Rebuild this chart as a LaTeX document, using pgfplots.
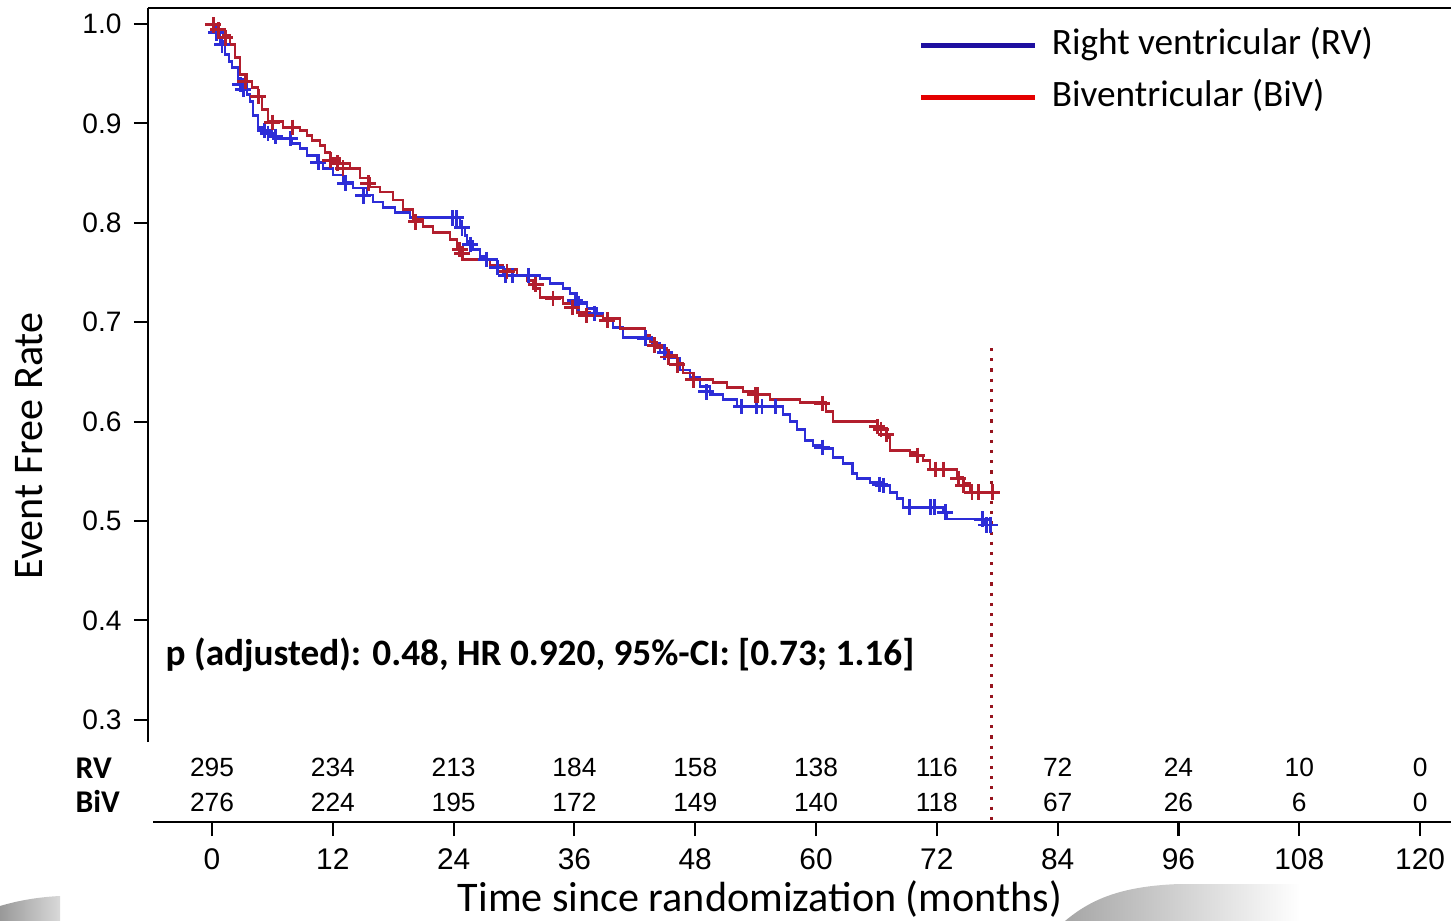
\documentclass[border=0pt]{standalone}
\usepackage{fontspec}
\setmainfont{Carlito}
\newfontfamily\arial{Liberation Sans}
\usepackage{pgfplots}
\usepackage{pgfplotstable}
\pgfplotsset{compat=1.18}

\definecolor{kmblue}{RGB}{45,45,215}
\definecolor{kmred}{RGB}{178,30,45}
\definecolor{legblue}{RGB}{30,15,160}
\definecolor{legred}{RGB}{228,0,0}
\definecolor{cutred}{RGB}{150,20,30}

% Kaplan-Meier steps: month, event free rate
\pgfplotstableread{
t s
0 1.000
0.30 0.994
0.79 0.982
1.29 0.969
1.69 0.962
1.99 0.956
2.58 0.944
3.08 0.936
3.48 0.929
3.77 0.922
4.07 0.908
4.57 0.896
5.07 0.890
6.06 0.885
7.95 0.880
8.74 0.875
9.44 0.868
10.43 0.861
11.03 0.855
12.02 0.848
13.01 0.841
14.01 0.835
15.40 0.828
15.99 0.821
16.99 0.815
18.18 0.810
19.67 0.805
24.64 0.795
25.13 0.787
25.33 0.781
25.93 0.773
26.62 0.766
27.32 0.763
28.31 0.755
28.91 0.747
32.58 0.744
33.57 0.739
34.87 0.734
35.56 0.729
36.26 0.720
37.25 0.714
38.24 0.709
38.84 0.702
39.83 0.695
40.83 0.685
43.71 0.679
44.50 0.670
45.50 0.664
46.49 0.652
47.48 0.644
48.48 0.635
49.47 0.627
50.76 0.622
52.15 0.615
56.72 0.607
57.42 0.600
58.11 0.592
58.91 0.581
59.70 0.576
60.69 0.573
61.69 0.564
62.68 0.558
63.58 0.548
64.07 0.543
65.36 0.539
66.65 0.536
67.35 0.529
68.04 0.523
68.64 0.514
72.61 0.509
73.01 0.502
76.79 0.496
77.48 0.496
}\rvcurve

\pgfplotstableread{
t s
0 1.000
0.60 0.994
1.09 0.989
1.79 0.979
2.28 0.966
2.78 0.949
3.48 0.942
3.97 0.936
4.57 0.927
4.97 0.914
5.56 0.902
7.05 0.896
8.74 0.893
9.44 0.888
9.93 0.883
10.73 0.878
11.22 0.871
11.72 0.865
12.71 0.860
13.71 0.855
14.70 0.845
15.69 0.836
16.69 0.831
17.98 0.823
18.97 0.813
19.97 0.803
20.96 0.796
21.95 0.790
23.64 0.783
24.34 0.775
24.93 0.763
27.62 0.757
28.91 0.753
30.30 0.747
31.29 0.742
31.89 0.734
32.58 0.725
34.87 0.719
36.26 0.710
37.55 0.707
38.84 0.704
40.53 0.694
43.01 0.687
43.51 0.680
44.20 0.674
45.20 0.667
46.19 0.659
46.79 0.649
47.78 0.642
49.77 0.639
51.16 0.634
52.75 0.630
53.74 0.627
55.43 0.622
58.41 0.619
60.99 0.610
61.69 0.600
66.06 0.595
66.35 0.592
67.05 0.584
67.35 0.571
69.33 0.569
70.03 0.566
70.63 0.561
71.32 0.552
74.00 0.544
74.60 0.538
75.30 0.529
77.58 0.529
}\bivcurve

% censored patients
\pgfplotstableread{
t s
0.40 0.991
0.99 0.979
2.78 0.939
3.08 0.934
5.26 0.893
5.56 0.890
6.26 0.887
7.75 0.885
10.53 0.861
13.21 0.840
15.00 0.827
23.84 0.805
24.24 0.805
24.83 0.795
25.63 0.778
27.22 0.763
28.31 0.755
29.20 0.747
29.80 0.747
31.39 0.747
36.06 0.722
36.36 0.719
38.04 0.709
43.01 0.684
44.99 0.670
49.07 0.630
52.55 0.615
54.04 0.615
54.63 0.615
55.93 0.615
60.60 0.574
66.35 0.537
66.65 0.536
69.33 0.514
71.32 0.514
71.72 0.514
72.81 0.509
76.49 0.502
76.89 0.496
77.28 0.496
}\rvcens

\pgfplotstableread{
t s
0.10 0.999
0.60 0.994
1.29 0.986
3.28 0.942
4.57 0.927
5.96 0.901
7.95 0.896
11.72 0.863
12.42 0.860
13.01 0.855
15.50 0.840
20.26 0.801
24.63 0.773
24.83 0.769
29.30 0.751
32.18 0.738
33.87 0.724
35.76 0.715
37.15 0.707
39.24 0.702
44.00 0.677
45.30 0.665
46.19 0.657
47.78 0.642
53.94 0.627
54.14 0.627
60.60 0.618
66.06 0.595
66.45 0.592
66.95 0.587
70.03 0.566
71.82 0.552
72.61 0.552
74.10 0.543
74.60 0.536
75.49 0.529
76.09 0.529
77.48 0.529
}\bivcens

\begin{document}
\begin{tikzpicture}
\path[use as bounding box] (0,0) rectangle (145.1mm,-92.1mm);

% slide decoration at the bottom
\shade[left color=gray!70, right color=white]
  (106.5mm,-92.1mm) .. controls (109mm,-90mm) and (112mm,-88.6mm) .. (118mm,-88.4mm)
  -- (130mm,-88.4mm) -- (130mm,-92.1mm) -- cycle;
\shade[left color=gray!80, right color=gray!30]
  (0,-92.1mm) -- (0,-90.6mm) .. controls (2mm,-90mm) and (4mm,-89.7mm) .. (6mm,-89.6mm)
  -- (6mm,-92.1mm) -- cycle;

\begin{axis}[
  at={(14.8mm,-74.2mm)}, anchor=south west,
  scale only axis, width=130.3mm, height=73.4mm,
  xmin=-6.36, xmax=123.07, ymin=0.2777, ymax=1.0161,
  axis x line*=top, axis y line*=left,
  xtick=\empty,
  ytick={0.3,0.4,0.5,0.6,0.7,0.8,0.9,1.0},
  tick align=outside, major tick length=1.4mm,
  axis line style={line width=0.6pt, black},
  every tick/.style={black, line width=0.6pt},
  yticklabel style={font=\arial\fontsize{8}{9}\selectfont,
    /pgf/number format/.cd, fixed, fixed zerofill, precision=1, assume math mode=true},
  clip=false,
  legend style={at={(axis description cs:0.591,0.9755)}, anchor=north west,
    draw=none, fill=none, inner sep=0pt, row sep=1.4mm,
    font=\fontsize{10.6}{12}\selectfont,
    nodes={inner sep=0pt, text height=2.8mm, text depth=1mm},
    /tikz/every odd column/.append style={column sep=1.4mm}},
  legend cell align=left,
  legend image code/.code={\draw[#1, line width=0.5mm] (0mm,0mm) -- (11.4mm,0mm);},
]
\addplot[const plot, kmblue, line width=0.8pt, forget plot] table {\rvcurve};
\addplot[const plot, kmred, line width=0.8pt, forget plot] table {\bivcurve};
\addplot[only marks, mark=+, mark size=2.2pt, kmblue, mark options={line width=0.85pt}, forget plot] table {\rvcens};
\addplot[only marks, mark=+, mark size=2.2pt, kmred, mark options={line width=0.85pt}, forget plot] table {\bivcens};
% end of follow-up
\addplot[cutred, dotted, line width=0.9pt, forget plot] coordinates {(77.4,0.674) (77.4,0.197)};

\addlegendimage{legblue}
\addlegendentry{Right ventricular (RV)}
\addlegendimage{legred}
\addlegendentry{Biventricular (BiV)}

\node[anchor=base west, inner sep=0pt, font=\bfseries\fontsize{10.6}{12}\selectfont]
  at (axis cs:-4.67,0.3551) {p (adjusted): 0.48, HR 0.920, 95\%-CI: [0.73; 1.16]};

% numbers at risk
\foreach \mo/\na/\nb in {0/295/276, 12/234/224, 24/213/195, 36/184/172, 48/158/149,
  60/138/140, 72/116/118, 84/72/67, 96/24/26, 108/10/6, 120/0/0}{
  \edef\riskrow{\noexpand\node[anchor=base, font=\noexpand\arial\noexpand\fontsize{7.5}{9}\noexpand\selectfont] at (axis cs:\mo,0.2425) {\na};
    \noexpand\node[anchor=base, font=\noexpand\arial\noexpand\fontsize{7.5}{9}\noexpand\selectfont] at (axis cs:\mo,0.2082) {\nb};}
  \riskrow
}
\end{axis}

\begin{axis}[
  at={(15.3mm,-82.2mm)}, anchor=south west,
  scale only axis, width=129.8mm, height=5mm,
  xmin=-5.86, xmax=123.07, ymin=0, ymax=1,
  axis x line*=bottom, axis y line=none,
  xtick={0,12,...,120},
  tick align=outside, major tick length=1.4mm,
  axis line style={line width=0.6pt, black},
  every tick/.style={black, line width=0.6pt},
  xticklabel style={font=\arial\fontsize{8.5}{10}\selectfont,
    /pgf/number format/assume math mode=true},
]
\addplot[draw=none] coordinates {(0,0.5)};
\end{axis}

\node[anchor=base west, inner sep=0pt, font=\bfseries\fontsize{9}{10}\selectfont] at (7.5mm,-77.8mm) {RV};
\node[anchor=base west, inner sep=0pt, font=\bfseries\fontsize{9}{10}\selectfont] at (7.5mm,-81.2mm) {BiV};
\node[anchor=base, rotate=90, font=\fontsize{12}{14}\selectfont] at (4.3mm,-44.6mm) {Event Free Rate};
\node[anchor=base, font=\fontsize{12}{14}\selectfont] at (76.0mm,-91.1mm) {Time since randomization (months)};
\end{tikzpicture}
\end{document}
